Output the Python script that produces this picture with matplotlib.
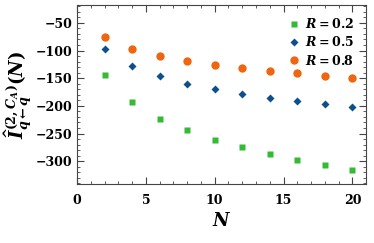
import matplotlib
matplotlib.use("Agg")
import matplotlib.pyplot as plt
from matplotlib.ticker import MultipleLocator

plt.rcParams['font.family'] = 'DejaVu Serif'
plt.rcParams['font.weight'] = 'bold'
plt.rcParams['mathtext.fontset'] = 'custom'
plt.rcParams['mathtext.rm'] = 'DejaVu Serif:bold'
plt.rcParams['mathtext.it'] = 'DejaVu Serif:italic:bold'
plt.rcParams['mathtext.bf'] = 'DejaVu Serif:bold'

# data
N = [2, 4, 6, 8, 10, 12, 14, 16, 18, 20]
r02 = [-144, -193, -224, -244, -262, -275, -287, -298, -307, -315]
r05 = [-98, -128, -146, -160, -169, -178, -185, -191, -196, -202]
r08 = [-75, -97, -110, -119, -127, -132, -137, -141, -146, -150]

fig = plt.figure(figsize=(3.74, 2.43), dpi=100)
ax = fig.add_axes([0.206, 0.243, 0.773, 0.736])

ax.plot(N, r02, 's', color='#33bb33', ms=4.5, mec='none', label=r'$R=0.2$')
ax.plot(N, r05, 'D', color='#0b4f8c', ms=4.3, mec='none', label=r'$R=0.5$')
ax.plot(N, r08, 'o', color='#f0650f', ms=6, mec='none', label=r'$R=0.8$')

ax.set_xlim(0, 21)
ax.set_ylim(-341, -18)
ax.xaxis.set_major_locator(MultipleLocator(5))
ax.xaxis.set_minor_locator(MultipleLocator(1))
ax.yaxis.set_major_locator(MultipleLocator(50))
ax.yaxis.set_minor_locator(MultipleLocator(10))
ax.tick_params(which='both', direction='in', top=True, right=True, labelsize=9, color='#444444')
ax.tick_params(which='major', length=5, width=0.8)
ax.tick_params(which='minor', length=2.5, width=0.6)
ax.tick_params(axis='x', pad=7)
for s in ax.spines.values():
    s.set_color('#444444')
    s.set_linewidth(0.8)

ax.set_xlabel(r'$N$', fontsize=13, labelpad=4)
ax.set_ylabel(r'$\widehat{I}^{(2,C_A)}_{q\leftarrow q}(N)$', fontsize=13, labelpad=1)

ax.legend(loc='upper right', frameon=False, fontsize=9, handletextpad=0.3,
          borderaxespad=0.55, labelspacing=0.35, handlelength=1.2)

fig.savefig('out.png', dpi=100)
